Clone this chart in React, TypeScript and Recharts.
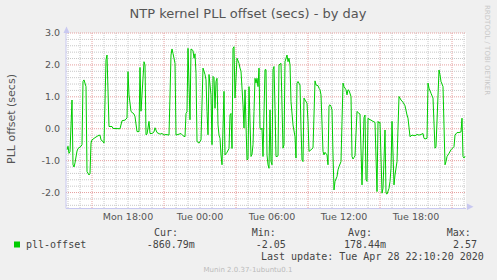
import React from 'react'
import { LineChart, Line, XAxis, YAxis, CartesianGrid } from 'recharts'

// 5-minute samples, counted from Mon 12:50
const sampleIdx = [
  1, 2, 3, 4, 6, 7, 8, 9, 11, 12, 15, 16, 17, 18, 20, 21, 23, 24, 25, 26,
  29, 32, 34, 35, 37, 38, 40, 41, 43, 46, 47, 54, 56, 59, 60, 61, 62, 63, 65, 68,
  69, 71, 73, 74, 75, 78, 79, 80, 81, 83, 84, 86, 88, 89, 91, 94, 96, 98, 100, 103,
  105, 106, 107, 109, 110, 112, 115, 117, 119, 120, 121, 122, 124, 125, 127, 128, 129, 130, 131, 133,
  135, 137, 139, 140, 141, 142, 143, 145, 146, 147, 148, 149, 150, 151, 152, 153, 154, 155, 156, 158,
  159, 161, 163, 164, 165, 166, 167, 168, 169, 171, 173, 174, 175, 177, 178, 179, 181, 182, 183, 185,
  186, 187, 188, 189, 190, 191, 192, 193, 194, 195, 196, 197, 199, 200, 201, 202, 203, 204, 205, 206,
  207, 208, 209, 210, 211, 212, 213, 215, 217, 218, 219, 221, 222, 223, 224, 225, 227, 229, 230, 231,
  232, 234, 235, 236, 237, 238, 239, 241, 242, 243, 245, 247, 248, 249, 250, 252, 253, 254, 255, 257,
  258, 259, 261, 262, 263, 264, 265, 266, 267, 268, 269, 271, 272, 273, 275, 276, 277, 278, 280, 281,
  282, 283, 285, 286, 287, 288, 289, 291, 293, 294, 296, 298, 299, 300, 301, 302, 303, 305, 307, 309,
  311, 312, 313, 314, 316, 317, 319, 320, 321, 323, 324, 325, 326, 328, 329, 331, 332, 333, 335, 337,
  339, 341, 342, 344, 346, 349, 351, 353, 355, 357, 358, 359, 361, 362, 363, 365, 367, 369, 370, 373,
  374, 375, 377, 379, 380, 381, 383, 385, 388, 389, 391, 393, 395, 396, 397, 398, 399,
]

const pllOffset = [
  -0.66, -0.55, -0.77, -0.72, 0.9, -1.13, -1.2, -1.07, -0.7, -0.62, -0.55, -0.5, 1.48, 1.53, 1.32, -1.34, -1.45, -1.4, -0.45, -0.35,
  -0.28, -0.22, -0.2, -0.35, -0.4, -0.45, 2.16, 2.31, 0.07, 0.07, 0.01, 0.0, 0.25, 0.27, 0.3, 0.34, 1.79, 1.06, 0.54, 0.46,
  0.38, -0.09, -0.09, 1.92, 0.55, 2.1, 2.0, -0.19, -0.17, 0.23, -0.15, -0.15, -0.1, 0.03, -0.12, -0.17, -0.15, -0.2, -0.18, -0.2,
  2.31, 2.5, 2.36, 2.05, -0.2, -0.18, -0.15, -0.22, -0.25, 0.48, 0.53, 2.52, 0.28, 2.5, 2.45, 2.21, 2.35, 1.74, -0.4, -0.45,
  -0.35, 1.9, 1.7, 1.53, 0.54, -0.19, 1.7, 1.06, -0.5, 1.64, 1.6, 0.64, 1.48, 1.58, 0.12, -0.2, -0.3, -0.82, -1.13, 1.17,
  -0.82, -0.74, -0.62, 0.43, 0.48, -0.62, 2.52, 2.57, 0.96, 2.21, 2.05, 1.9, 1.8, 0.75, 0.02, 1.22, -0.98, -0.95, 1.32, -0.87,
  -0.8, -0.5, 0.54, 1.58, 1.43, 1.58, 1.32, 1.9, 0.02, -0.03, 0.02, -0.87, 1.85, 1.85, -0.82, -1.13, -1.24, 0.59, -1.03, -1.13,
  1.85, 1.95, 0.64, -0.87, -0.87, -0.85, 2.0, 2.05, -0.61, -0.5, 2.1, 2.31, 2.1, 2.21, 2.0, 0.85, 0.12, -0.25, -0.92, 1.43,
  1.48, 1.37, 0.02, -0.98, -1.03, 0.96, 0.9, 0.8, 0.23, -0.71, -0.66, -0.6, 0.43, 1.5, 1.37, 1.35, 1.27, 1.22, 1.06, -0.71,
  -0.82, -0.74, -0.82, -1.13, 0.72, 0.75, 0.7, 0.59, -0.82, -1.92, -1.65, -1.5, -1.29, -1.19, -1.03, 0.23, 1.43, 1.32, 1.22, 1.06,
  1.22, 1.2, 1.01, -0.87, -0.95, -0.9, -0.85, 0.54, 0.48, 0.46, -1.76, 0.35, 0.43, -1.6, -1.65, 0.33, 0.3, 0.27, 0.23, 0.2,
  -1.97, 0.23, 0.18, 0.2, -2.02, -1.87, -0.04, -2.02, -2.05, -1.87, -1.65, -1.24, 0.23, -1.76, -1.45, -1.03, 0.02, 1.01, 0.9, 0.83,
  0.72, 0.43, 0.33, -0.25, -0.2, -0.22, -0.18, -0.2, -0.18, -0.15, -0.3, -0.32, -0.3, 1.43, 1.27, 1.11, 0.96, -0.61, -0.56, 1.84,
  1.69, 1.48, 1.32, -1.13, -1.03, -0.87, -0.77, -0.66, -0.56, -0.2, -0.12, -0.12, -0.1, 0.33, -0.87, -0.92, -0.86,
]

const timeTicks = [62, 134, 206, 278, 350]
const timeLabels = ['Mon 18:00', 'Tue 00:00', 'Tue 06:00', 'Tue 12:00', 'Tue 18:00']
const offsetTicks = [-2, -1, 0, 1, 2, 3]

const statNames = ['Cur:', 'Min:', 'Avg:', 'Max:']
const statValues = ['-860.79m', '-2.05', '178.44m', '2.57']
const lastUpdate = 'Last update: Tue Apr 28 22:10:20 2020'

const data = sampleIdx.map((s, i) => ({ s, v: pllOffset[i] }))

// grid: gray every hour / 0.2, red every 6h / 1.0
const hourLines: number[] = []
const sixHourLines: number[] = []
for (let s = 2; s <= 400; s += 12) {
  if ((s - 26) % 72 === 0) sixHourLines.push(s)
  else hourLines.push(s)
}
const minorY: number[] = []
for (let k = -12; k <= 15; k++) if (k % 5 !== 0) minorY.push(k / 5)

const SANS = '"DejaVu Sans", sans-serif'
const MONO = '"DejaVu Sans Mono", monospace'
const AXIS = '#c8c8f0'

const statHeadX = [154, 251.7, 348, 446.7]
const statValX = [146.7, 255.7, 344, 453]

export default function App() {
  return (
    <div style={{ position: 'absolute', left: 0, top: 0, width: 497, height: 280, background: '#f0f0f0' }}>
      <LineChart width={497} height={280} data={data} margin={{ top: 33, right: 31, left: 16, bottom: 51.5 }}>
        <CartesianGrid fill="#ffffff" stroke="#c8c8c8" strokeDasharray="1 1"
          horizontalValues={minorY} verticalValues={hourLines} />
        <CartesianGrid fill="none" stroke="#e6a0a0" strokeDasharray="1 1"
          horizontalValues={offsetTicks} verticalValues={sixHourLines} />
        <XAxis type="number" dataKey="s" domain={[0, 400]} ticks={timeTicks} interval={0}
          tickFormatter={(v) => timeLabels[timeTicks.indexOf(v)]}
          height={20} tickLine={false} tickSize={3} tickMargin={2}
          axisLine={{ stroke: AXIS }}
          tick={{ fill: '#555', fontSize: 9.5, fontFamily: SANS }} />
        <YAxis type="number" domain={[-2.5, 3]} ticks={offsetTicks} interval={0}
          tickFormatter={(v) => v.toFixed(1)} allowDataOverflow
          width={50} tickLine={false} tickSize={4} tickMargin={2}
          axisLine={{ stroke: AXIS }}
          tick={{ fill: '#555', fontSize: 9.5, fontFamily: SANS }} />
        <Line type="linear" dataKey="v" stroke="#00cc00" strokeWidth={1} dot={false} isAnimationActive={false} />
      </LineChart>

      <svg width={497} height={280} style={{ position: 'absolute', left: 0, top: 0, pointerEvents: 'none' }}>
        <text x={248} y={18} textAnchor="middle" fontFamily={SANS} fontSize={13} fill="#555">
          NTP kernel PLL offset (secs) - by day
        </text>
        <text x={0} y={0} transform="translate(14.5,119) rotate(-90)" textAnchor="middle"
          fontFamily={SANS} fontSize={11} fill="#555">
          PLL offset (secs)
        </text>
        <text x={0} y={0} transform="translate(484.5,5) rotate(90)" fontFamily={SANS} fontSize={7} fill="#c8c8c8">
          RRDTOOL / TOBI OETIKER
        </text>
        <polygon points="63.5,33 69.5,33 66.5,26.5" fill={AXIS} />
        <polygon points="467,203.5 467,210 473.5,206.7" fill={AXIS} />

        <rect x={14} y={241.5} width={6} height={6} fill="#00cc00" />
        <text x={26} y={247.5} fontFamily={MONO} fontSize={10} fill="#444">pll-offset</text>
        {statNames.map((n, i) => (
          <text key={n} x={statHeadX[i]} y={236} fontFamily={MONO} fontSize={10} fill="#444">{n}</text>
        ))}
        {statValues.map((v, i) => (
          <text key={i} x={statValX[i]} y={247.5} fontFamily={MONO} fontSize={10} fill="#444">{v}</text>
        ))}
        <text x={261} y={260} fontFamily={MONO} fontSize={10} fill="#444">{lastUpdate}</text>
        <text x={248} y={272} textAnchor="middle" fontFamily={SANS} fontSize={7} fill="#bbb">
          Munin 2.0.37-1ubuntu0.1
        </text>
      </svg>
    </div>
  )
}
